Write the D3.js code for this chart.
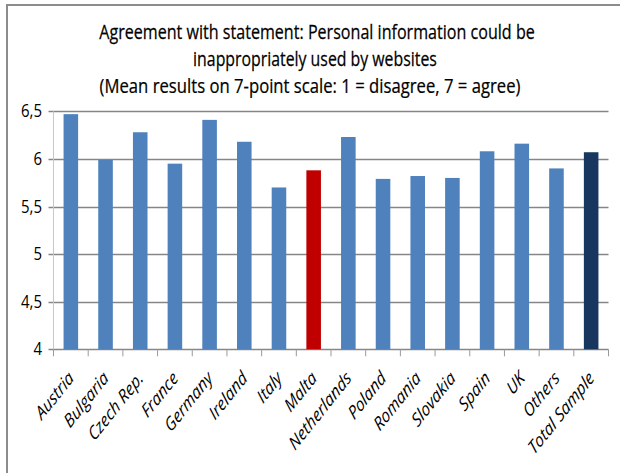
<!DOCTYPE html>
<html>
<head>
<meta charset="utf-8">
<script src="https://cdn.jsdelivr.net/npm/d3@7"></script>
<style>
  body { margin: 0; background: #fff; }
  svg { display: block; }
  text { font-family: "Open Sans", "Liberation Sans", sans-serif; fill: #000; }
</style>
</head>
<body>
<svg width="620" height="473"></svg>
<script>
var categories = ["Austria", "Bulgaria", "Czech Rep.", "France", "Germany", "Ireland", "Italy", "Malta",
                  "Netherlands", "Poland", "Romania", "Slovakia", "Spain", "UK", "Others", "Total Sample"];
var values = [6.47, 5.99, 6.28, 5.95, 6.41, 6.18, 5.70, 5.88,
              6.23, 5.79, 5.82, 5.80, 6.08, 6.16, 5.90, 6.07];
var yTicks = [4, 4.5, 5, 5.5, 6, 6.5];
var titleLines = ["Agreement with statement: Personal information could be",
                  "inappropriately used by websites",
                  "(Mean results on 7-point scale: 1 = disagree, 7 = agree)"];

var svg = d3.select("svg"),
    width = +svg.attr("width"),
    height = +svg.attr("height");

var plotLeft = 53.5, plotRight = 608.5, plotTop = 111.3, plotBottom = 349.3;

var x = d3.scaleBand()
          .domain(categories)
          .range([plotLeft, plotRight])
          .paddingInner(0.58)
          .paddingOuter(0.29);

var y = d3.scaleLinear()
          .domain([4, 6.5])
          .range([plotBottom, plotTop]);

var fmt = d3.formatLocale({decimal: ",", thousands: ".", grouping: [3], currency: ["", ""]}).format("~g");

function barColor(name) {
    if (name == "Malta") return "#c00000";
    if (name == "Total Sample") return "#17375e";
    return "#4f81bd";
}

// frame (only top and left edges show)
svg.append("path")
   .attr("d", "M7,473V5H620")
   .attr("fill", "none")
   .attr("stroke", "#8c8c8c")
   .attr("stroke-width", 2);

// title - squeezed horizontally to the narrow look of the original
var titleWidths = [436, 244, 421];
var titleX = [317, 315, 310];
svg.append("g").selectAll("text")
   .data(titleLines)
   .enter().append("text")
   .attr("text-anchor", "middle")
   .style("font-size", "20px")
   .style("stroke", "#000")
   .style("stroke-width", 0.25)
   .text(function(d) { return d; })
   .attr("transform", function(d, i) {
        var sx = titleWidths[i] / this.getComputedTextLength();
        return "translate(" + titleX[i] + "," + (39 + i * 27) + ") scale(" + sx + ",1)";
   });

// gridlines + y labels
var grid = svg.append("g");
grid.selectAll("line")
    .data(yTicks)
    .enter().append("line")
    .attr("x1", plotLeft - 5)
    .attr("x2", plotRight)
    .attr("y1", function(d) { return Math.round(y(d)) + 0.5; })
    .attr("y2", function(d) { return Math.round(y(d)) + 0.5; })
    .attr("stroke", "#868686")
    .attr("stroke-width", 1.3);

grid.selectAll("text")
    .data(yTicks)
    .enter().append("text")
    .attr("transform", function(d) { return "translate(42," + (y(d) + 6) + ") scale(1,1.15)"; })
    .attr("text-anchor", "end")
    .style("font-size", "15px")
    .text(function(d) { return fmt(d); });

// y axis line
svg.append("line")
   .attr("x1", plotLeft).attr("x2", plotLeft)
   .attr("y1", plotTop).attr("y2", plotBottom)
   .attr("stroke", "#c8c8c8");

// bars
svg.append("g").selectAll("rect")
   .data(categories)
   .enter().append("rect")
   .attr("x", function(d) { return x(d); })
   .attr("width", x.bandwidth())
   .attr("y", function(d, i) { return y(values[i]); })
   .attr("height", function(d, i) { return y(4) - y(values[i]); })
   .attr("fill", function(d) { return barColor(d); });

// x axis ticks
var step = x.step();
var bounds = d3.range(categories.length + 1).map(function(i) { return plotLeft + i * step; });
svg.append("g").selectAll("line")
   .data(bounds)
   .enter().append("line")
   .attr("x1", function(d) { return d; })
   .attr("x2", function(d) { return d; })
   .attr("y1", plotBottom)
   .attr("y2", plotBottom + 7)
   .attr("stroke", "#9a9a9a");

// category labels
svg.append("g").selectAll("text")
   .data(categories)
   .enter().append("text")
   .attr("transform", function(d) {
        return "translate(" + (x(d) + x.bandwidth() / 2 + 4) + "," + (plotBottom + 30) + ") scale(1,1.25) rotate(-45)";
   })
   .attr("text-anchor", "end")
   .style("font-size", "15px")
   .style("font-style", "italic")
   .text(function(d) { return d; });
</script>
</body>
</html>
